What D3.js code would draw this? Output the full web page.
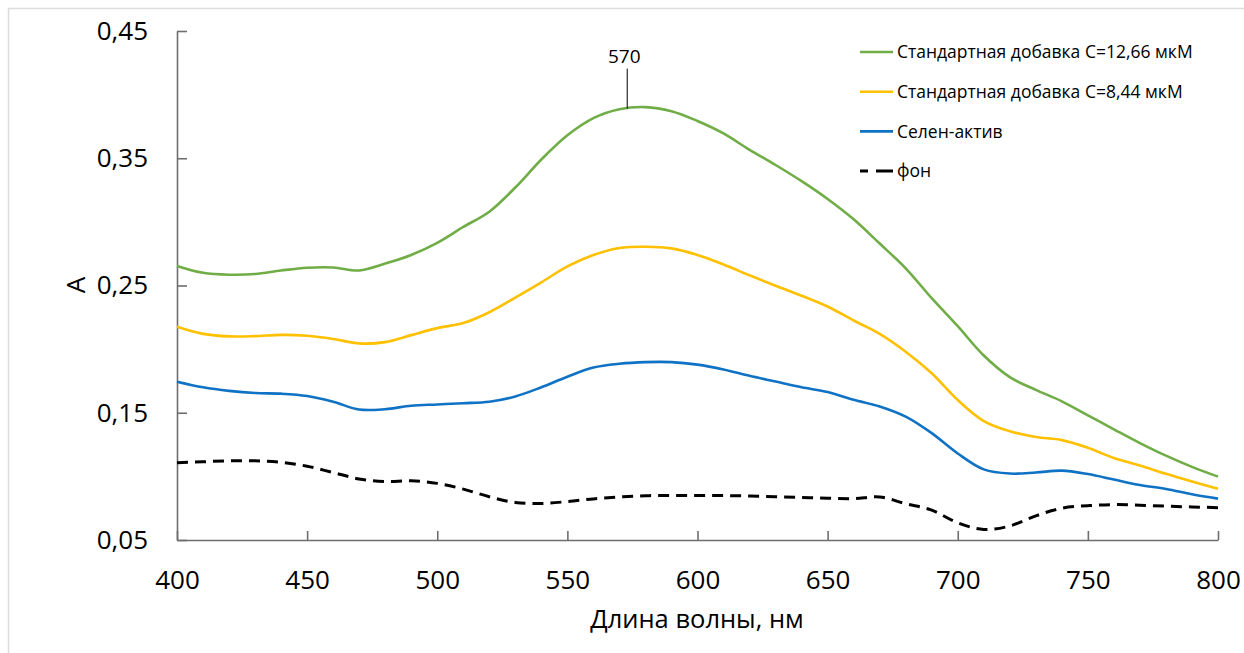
<!DOCTYPE html>
<html>
<head>
<meta charset="utf-8">
<script src="https://cdn.jsdelivr.net/npm/d3@7"></script>
<style>
  html, body { margin: 0; padding: 0; background: #fff; }
  svg { display: block; }
  text { font-family: "Open Sans", "Noto Sans", sans-serif; fill: #000; }
</style>
</head>
<body>
<svg id="chart" width="1244" height="653"></svg>
<script>
// ---- data ----
const wavelengths = [400,410,420,430,440,450,460,470,480,490,500,510,520,530,540,550,560,570,580,590,600,
  610,620,630,640,650,660,670,680,690,700,710,720,730,740,750,760,770,780,790,800];

const seriesNames = ["Стандартная добавка С=12,66 мкМ", "Стандартная добавка С=8,44 мкМ", "Селен-актив", "фон"];

const addition1266 = [0.2654,0.2600,0.2585,0.2590,0.2618,0.2640,0.2642,0.2618,0.2672,0.2740,0.2835,
  0.2960,0.3080,0.3270,0.3490,0.3680,0.3815,0.3885,0.3902,0.3870,0.3793,
  0.3695,0.3566,0.3447,0.3320,0.3180,0.3020,0.2830,0.2635,0.2400,0.2180,
  0.1950,0.1780,0.1680,0.1590,0.1480,0.1370,0.1262,0.1163,0.1075,0.0998];

const addition844 = [0.2176,0.2120,0.2100,0.2102,0.2112,0.2105,0.2080,0.2045,0.2055,0.2110,0.2165,
  0.2205,0.2290,0.2405,0.2525,0.2650,0.2740,0.2795,0.2805,0.2792,0.2740,
  0.2665,0.2580,0.2498,0.2420,0.2335,0.2225,0.2120,0.1980,0.1810,0.1600,
  0.1435,0.1355,0.1310,0.1285,0.1225,0.1145,0.1085,0.1020,0.0960,0.0903];

const selenActiv = [0.1744,0.1700,0.1672,0.1655,0.1650,0.1632,0.1587,0.1525,0.1528,0.1555,0.1565,
  0.1575,0.1587,0.1628,0.1700,0.1783,0.1855,0.1885,0.1898,0.1898,0.1878,
  0.1840,0.1790,0.1745,0.1700,0.1663,0.1602,0.1550,0.1470,0.1340,0.1180,
  0.1055,0.1022,0.1030,0.1045,0.1018,0.0975,0.0932,0.0901,0.0860,0.0825];

const background = [0.1108,0.1115,0.1122,0.1122,0.1110,0.1080,0.1030,0.0980,0.0960,0.0965,0.0945,
  0.0900,0.0840,0.0795,0.0787,0.0802,0.0823,0.0838,0.0848,0.0849,0.0849,
  0.0849,0.0846,0.0840,0.0834,0.0828,0.0825,0.0838,0.0785,0.0735,0.0635,
  0.0583,0.0610,0.0690,0.0750,0.0770,0.0778,0.0773,0.0766,0.0760,0.0754];

const xTicks = [400,450,500,550,600,650,700,750,800];
const yTicks = [0.05,0.15,0.25,0.35,0.45];
const xTitle = "Длина волны, нм";
const yTitle = "A";
const peakLabel = "570";
const peakPosition = 573;

// ---- styles ----
const colors = ["#70AD47", "#FFC000", "#0F72C4", "#000000"];
const dashes = [null, null, null, "11,7"];
const widths = [2.6, 2.6, 2.6, 3];

const svg = d3.select("#chart");
const x = d3.scaleLinear().domain([400, 800]).range([177, 1218]);
const y = d3.scaleLinear().domain([0.05, 0.45]).range([540, 31]);

// frame lines
svg.append("line").attr("x1", 8).attr("x2", 1244).attr("y1", 8.5).attr("y2", 8.5)
  .attr("stroke", "#dcdcdc").attr("stroke-width", 1.5);
svg.append("line").attr("x1", 8.5).attr("x2", 8.5).attr("y1", 8).attr("y2", 653)
  .attr("stroke", "#dcdcdc").attr("stroke-width", 1.5);

const fmt = d => d3.format(".2f")(d).replace(".", ",");

const yAxis = svg.append("g").attr("transform", "translate(177,0)")
  .call(d3.axisLeft(y).tickValues(yTicks).tickFormat(fmt).tickSizeInner(-10).tickSizeOuter(0).tickPadding(29));
const xAxis = svg.append("g").attr("transform", "translate(0,540)")
  .call(d3.axisBottom(x).tickValues(xTicks).tickFormat(d3.format("d")).tickSizeInner(-9).tickSizeOuter(0).tickPadding(31));

[yAxis, xAxis].forEach(g => {
  g.select(".domain").attr("stroke", "#6e6e6e").attr("stroke-width", 1.6);
  g.selectAll(".tick line").attr("stroke", "#6e6e6e").attr("stroke-width", 1.6);
  g.selectAll(".tick text").style("font-family", '"Open Sans", sans-serif').style("font-size", "26px").attr("fill", "#000");
});

// axis titles
svg.append("text").attr("x", 697).attr("y", 628).attr("text-anchor", "middle")
  .style("font-size", "25.5px").text(xTitle);
svg.append("text").attr("transform", "translate(85,285) rotate(-90)").attr("text-anchor", "middle")
  .style("font-size", "26px").text(yTitle);

// lines
const allSeries = [addition1266, addition844, selenActiv, background];
const line = d3.line().x(d => x(d[0])).y(d => y(d[1])).curve(d3.curveCatmullRom.alpha(0.5));
allSeries.forEach((vals, i) => {
  const pts = wavelengths.map((w, j) => [w, vals[j]]);
  svg.append("path").datum(pts).attr("d", line)
    .attr("fill", "none").attr("stroke", colors[i]).attr("stroke-width", widths[i])
    .attr("stroke-dasharray", dashes[i]).attr("stroke-linejoin", "round");
});

// peak annotation
const peakVal = d3.interpolateNumber(addition1266[17], addition1266[18])((peakPosition - 570) / 10);
const py = y(peakVal);
svg.append("line").attr("x1", x(peakPosition)).attr("x2", x(peakPosition))
  .attr("y1", py).attr("y2", py - 40).attr("stroke", "#000").attr("stroke-width", 1);
svg.append("text").attr("x", x(peakPosition) - 3).attr("y", py - 46).attr("text-anchor", "middle")
  .style("font-size", "19px").text(peakLabel);

// legend
const legend = svg.append("g");
seriesNames.forEach((name, i) => {
  const ly = 52 + i * 39.7;
  legend.append("line").attr("x1", 860).attr("x2", 893).attr("y1", ly).attr("y2", ly)
    .attr("stroke", colors[i]).attr("stroke-width", widths[i]).attr("stroke-dasharray", i === 3 ? "8,8,17" : null);
  legend.append("text").attr("x", 897).attr("y", ly).attr("dy", "0.35em")
    .style("font-size", "17.5px").text(name);
});
</script>
</body>
</html>
